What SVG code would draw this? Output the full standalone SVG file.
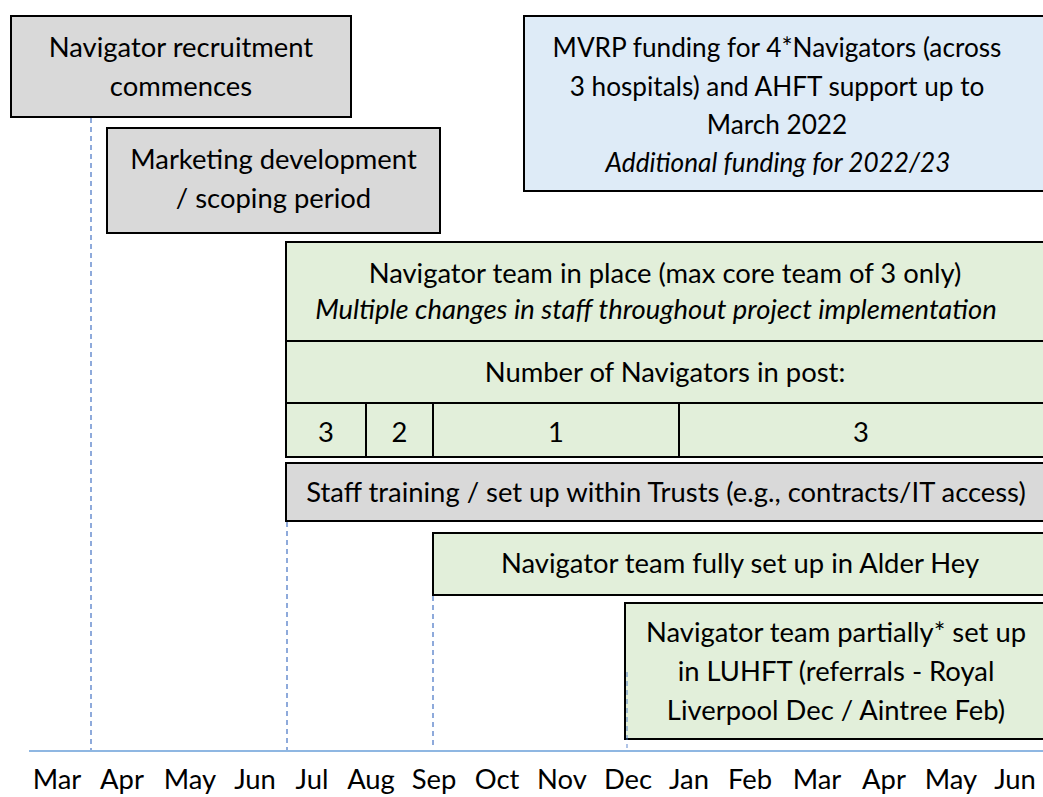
<svg xmlns="http://www.w3.org/2000/svg" width="1043" height="797" viewBox="0 0 1043 797">
<style>
text{font-family:Lato,"Open Sans","Liberation Sans",sans-serif;font-size:27.4px;fill:#000;text-anchor:middle}
.it{font-style:italic}
.sm{font-size:26.2px}
.box{stroke:#000;stroke-width:2}
.gray{fill:#d9d9d9}
.blue{fill:#deebf7}
.green{fill:#e2efda}
.dash{stroke:#4472c4;stroke-width:1.2;stroke-dasharray:5 4;fill:none}
.axis{stroke:#6a9fd8;stroke-width:1.6}
</style>
<rect width="1043" height="797" fill="#fff"/>
<g id="connectors">
<line class="dash" x1="91" y1="118" x2="91" y2="750"/>
<line class="dash" x1="287" y1="522" x2="287" y2="750"/>
<line class="dash" x1="433" y1="596" x2="433" y2="746"/>
<line class="axis" x1="29" y1="751" x2="1043" y2="751"/>
</g>
<g id="recruitment">
<rect class="box gray" x="11" y="16" width="340" height="101"/>
<text x="181" y="57">Navigator recruitment</text>
<text x="181" y="96">commences</text>
</g>
<g id="marketing">
<rect class="box gray" x="107" y="128" width="333" height="105"/>
<text x="273.5" y="169">Marketing development</text>
<text x="273.5" y="208">/ scoping period</text>
</g>
<g id="funding">
<rect class="box blue" x="524" y="16" width="530" height="175"/>
<text class="sm" x="777" y="57">MVRP funding for 4*Navigators (across</text>
<text class="sm" x="777" y="96">3 hospitals) and AHFT support up to</text>
<text class="sm" x="777" y="134">March 2022</text>
<text class="it sm" x="778" y="172">Additional funding for 2022/23</text>
</g>
<g id="team">
<rect class="box green" x="286" y="242" width="770" height="215"/>
<line class="box" x1="286" y1="341" x2="1056" y2="341"/>
<line class="box" x1="286" y1="403" x2="1056" y2="403"/>
<line class="box" x1="366" y1="403" x2="366" y2="457"/>
<line class="box" x1="433" y1="403" x2="433" y2="457"/>
<line class="box" x1="679" y1="403" x2="679" y2="457"/>
<text x="665" y="283">Navigator team in place (max core team of 3 only)</text>
<text class="it" x="656" y="319">Multiple changes in staff throughout project implementation</text>
<text x="665" y="382">Number of Navigators in post:</text>
<text x="326" y="442">3</text>
<text x="399.5" y="442">2</text>
<text x="556" y="442">1</text>
<text x="861" y="442">3</text>
</g>
<g id="training">
<rect class="box gray" x="286" y="463" width="770" height="58"/>
<text x="666" y="502">Staff training / set up within Trusts (e.g., contracts/IT access)</text>
</g>
<g id="alderhey">
<rect class="box green" x="433" y="533" width="620" height="62"/>
<text x="740" y="573">Navigator team fully set up in Alder Hey</text>
</g>
<g id="luhft">
<rect class="box green" x="625" y="603" width="430" height="136"/>
<text x="836" y="642">Navigator team partially* set up</text>
<text x="836" y="681">in LUHFT (referrals - Royal</text>
<text x="836" y="720">Liverpool Dec / Aintree Feb)</text>
<line class="dash" x1="627" y1="672" x2="627" y2="748" opacity="0.7"/>
</g>
<g id="months">
<text x="57" y="789">Mar</text>
<text x="122" y="789">Apr</text>
<text x="190" y="789">May</text>
<text x="255" y="789">Jun</text>
<text x="312" y="789">Jul</text>
<text x="371" y="789">Aug</text>
<text x="434" y="789">Sep</text>
<text x="497" y="789">Oct</text>
<text x="562" y="789">Nov</text>
<text x="628" y="789">Dec</text>
<text x="689" y="789">Jan</text>
<text x="750" y="789">Feb</text>
<text x="817" y="789">Mar</text>
<text x="884" y="789">Apr</text>
<text x="951" y="789">May</text>
<text x="1015" y="789">Jun</text>
</g>
</svg>
